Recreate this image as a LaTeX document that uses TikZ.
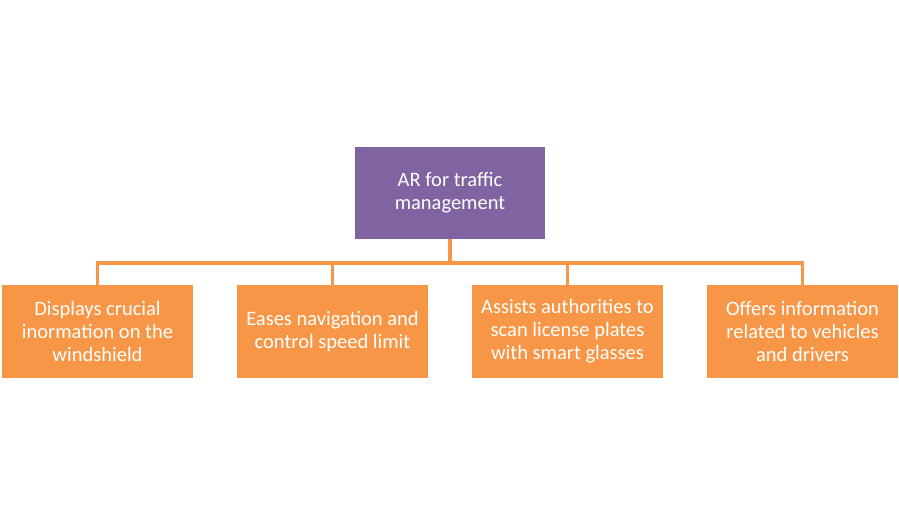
\documentclass[tikz,border=0pt]{standalone}
\usepackage{fontspec}
\setmainfont{Carlito}
\usetikzlibrary{positioning}
\definecolor{arpurple}{HTML}{8064A2}
\definecolor{arorange}{HTML}{F79646}

\begin{document}
\begin{tikzpicture}[x=1pt, y=1pt,
        topbox/.style={fill=arpurple, text=white, minimum width=190pt, minimum height=92pt,
            inner sep=0, outer sep=0, align=center, font=\fontsize{20.5}{23}\selectfont},
        leaf/.style={fill=arorange, text=white, minimum width=191pt, minimum height=93pt,
            inner sep=0, outer sep=0, align=center, font=\fontsize{20.5}{23}\selectfont},
        link/.style={draw=arorange, line width=3.5pt}]
    \useasboundingbox (0,0) rectangle (899,-525);
    \node(top)[topbox] at (450,-193) {AR for traffic\\management};
    \node(b1)[leaf] at (97.5,-331.5) {Displays crucial\\inormation on the\\windshield};
    \node(b2)[leaf, right=44pt of b1] {Eases navigation and\\control speed limit};
    \node(b3)[leaf, right=44pt of b2] {Assists authorities to\\scan license plates\\with smart glasses};
    \node(b4)[leaf, right=44pt of b3] {Offers information\\related to vehicles\\and drivers};
    \coordinate(bus) at (450,-263);
    \draw[link] ([xshift=-1.75pt]bus -| b1) -- ([xshift=1.75pt]bus -| b4);
    \draw[link] (top) -- (bus);
    \foreach \b in {b1,b2,b3,b4}
        \draw[link] (bus -| \b) -- (\b);
\end{tikzpicture}
\end{document}
